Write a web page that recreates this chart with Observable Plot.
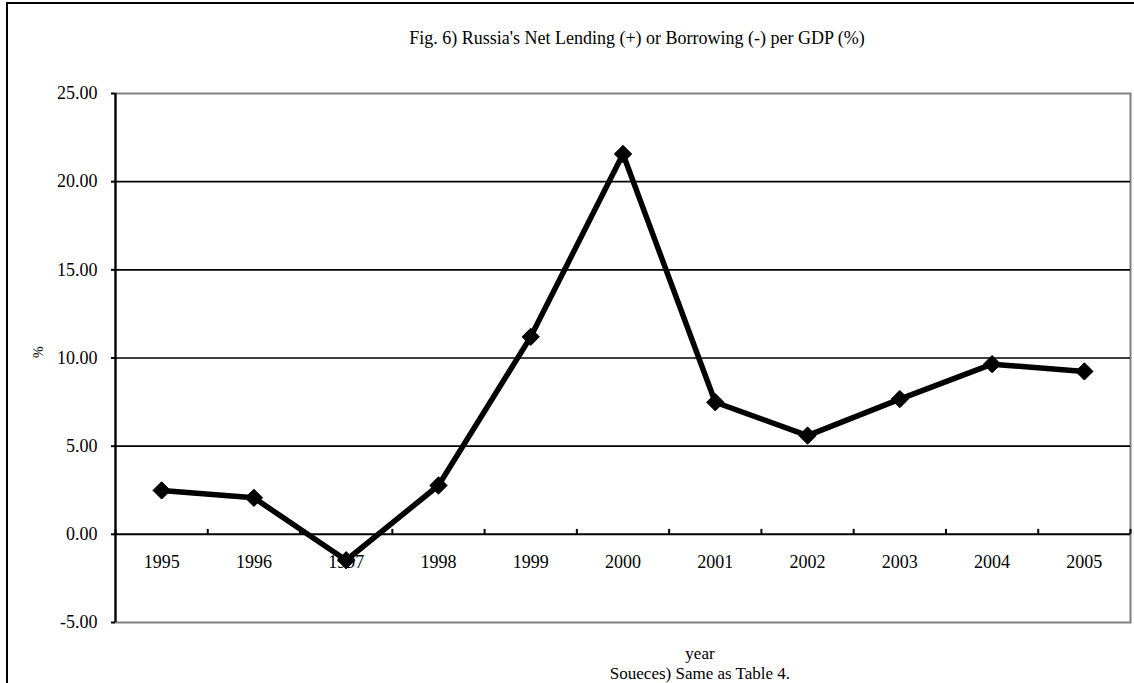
<!DOCTYPE html>
<html>
<head>
<meta charset="utf-8">
<script src="https://cdn.jsdelivr.net/npm/d3@7"></script>
<script src="https://cdn.jsdelivr.net/npm/@observablehq/plot@0.6"></script>
<style>
  html, body { margin: 0; padding: 0; background: #fff; }
  #wrap { position: relative; width: 1134px; height: 683px; overflow: hidden; font-family: "Liberation Serif", "DejaVu Serif", serif; }
  #outer { position: absolute; left: 6px; top: 2px; width: 2000px; height: 2000px; border-left: 2px solid #000; border-top: 2px solid #000; }
  .lbl { position: absolute; white-space: nowrap; color: #000; transform: translate(-50%, -50%); line-height: 1; }
  #title { left: 637px; top: 38px; font-size: 18px; }
  #xlab { left: 700px; top: 653px; font-size: 17px; }
  #src { left: 700px; top: 673px; font-size: 17px; }
  svg { position: absolute; left: 0; top: 0; }
</style>
</head>
<body>
<div id="wrap">
  <div id="outer"></div>
  <div id="chart"></div>
  <div class="lbl" id="title">Fig. 6) Russia's Net Lending (+) or Borrowing (-) per GDP (%)</div>
  <div class="lbl" id="xlab">year</div>
  <div class="lbl" id="src">Soueces) Same as Table 4.</div>
</div>
<script>
const years = [1995, 1996, 1997, 1998, 1999, 2000, 2001, 2002, 2003, 2004, 2005];
const values = [2.49, 2.07, -1.47, 2.77, 11.2, 21.57, 7.49, 5.60, 7.67, 9.65, 9.24];
const yTicks = [-5, 0, 5, 10, 15, 20, 25];
const gridValues = [5, 10, 15, 20];
const yLabel = "%";

const data = years.map((y, i) => ({year: y, value: values[i]}));
const bounds = [years[0] - 0.5, ...years.map(y => y + 0.5)];

const chart = Plot.plot({
  width: 1134,
  height: 683,
  marginLeft: 115,
  marginRight: 4,
  marginTop: 93,
  marginBottom: 61,
  style: {background: "transparent", fontFamily: "'Liberation Serif', serif", fontSize: "18px", color: "#000"},
  x: {domain: [years[0] - 0.5, years[years.length - 1] + 0.5], axis: null},
  y: {domain: [-5, 25], axis: null},
  marks: [
    Plot.frame({stroke: "#808080", strokeWidth: 2}),
    Plot.ruleY(gridValues, {stroke: "#000", strokeWidth: 1.7}),
    Plot.ruleY([0], {stroke: "#000", strokeWidth: 2}),
    Plot.ruleX(bounds, {y1: 0, y2: 0.28, stroke: "#000", strokeWidth: 2}),
    Plot.ruleX([bounds[0]], {stroke: "#000", strokeWidth: 2.2}),
    Plot.axisY(yTicks, {tickFormat: d => d.toFixed(2), tickSize: 4, tickPadding: 14, fontSize: 18, fontFamily: "'Liberation Serif', serif", stroke: "#000", strokeWidth: 2, label: null}),
    Plot.text(years, {x: d => d, y: 0, dy: 28, text: d => String(d), fontSize: 18, fontFamily: "'Liberation Serif', serif", fill: "#000"}),
    Plot.text([yLabel], {frameAnchor: "left", dx: -77, rotate: -90, text: d => d, fontSize: 14, fontFamily: "'Liberation Serif', serif", fill: "#000"}),
    Plot.line(data, {x: "year", y: "value", stroke: "#000", strokeWidth: 5.5, strokeLinejoin: "round"}),
    Plot.dot(data, {x: "year", y: "value", symbol: "diamond2", r: 7.8, fill: "#000", stroke: "#000", strokeWidth: 1})
  ]
});
document.getElementById("chart").appendChild(chart);
</script>
</body>
</html>
